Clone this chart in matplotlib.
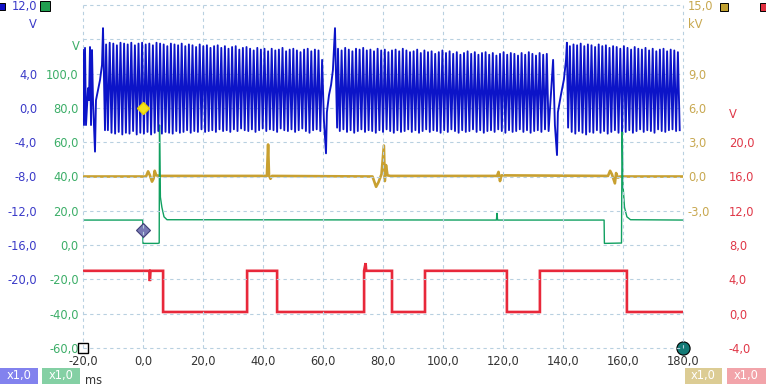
import numpy as np
import matplotlib
matplotlib.use("Agg")
import matplotlib.pyplot as plt
from matplotlib.patches import Rectangle

plt.rcParams["font.family"] = ["DejaVu Sans"]
FS = 8.3

W, H = 766, 388
C_BLUE, C_GREEN, C_GOLD, C_RED = "#0c14c8", "#10a060", "#c8a030", "#e8283a"
L_BLUE, L_GREEN, L_GOLD, L_RED = "#3a3ac8", "#3cae68", "#c8a850", "#e03848"
GRID = "#b8d0e0"

# ---- scope channels -------------------------------------------------------
# blue channel (V): irregular stretches, explicit (t [ms], V) points
blue_a_t = [-20.0, -19.67, -19.33, -19.0, -18.33, -18.0, -17.67, -17.33, -17.0,
            -16.67, -16.0, -15.67, -15.0, -14.33, -13.67, -13.33, -13.0, -12.67]
blue_a_v = [6.75, -2.0, 7.0, -2.0, 2.3, 0.9, 7.1, -2.0, 6.75,
            0.9, -5.1, 0.9, 2.1, 3.25, 5.0, 9.3, 3.25, -2.6]
blue_ab_t = [59.7, 60.3, 61.0, 61.3, 62.0, 62.7, 63.3, 64.0, 64.3, 64.7]
blue_ab_v = [5.6, -1.4, -5.3, -0.5, 1.5, 2.7, 4.4, 9.3, 4.4, -2.3]
blue_bc_t = [136.7, 137.3, 138.0, 138.3, 139.3, 140.3, 141.0, 141.3, 141.7]
blue_bc_v = [5.6, -2.0, -5.5, -0.5, 1.5, 3.3, 5.6, 7.6, -2.3]

# blue channel oscillation bursts: start time, per-cycle peaks and troughs
BURST_HALF = 0.6  # ms between a peak and the next trough
burst_b_start = -12.3
burst_b_hi = [7.4, 7.6, 7.5, 7.3, 7.6, 7.5, 7.4, 7.6, 7.3, 7.5,
              7.6, 7.4, 7.5, 7.3, 7.6, 7.5, 7.4, 7.2, 7.5, 7.4,
              7.3, 7.5, 7.2, 7.4, 7.3, 7.1, 7.4, 7.2, 7.3, 7.0,
              7.2, 7.3, 7.0, 7.2, 6.9, 7.1, 7.2, 6.8, 7.0, 7.1,
              6.9, 6.7, 7.0, 6.8, 6.9, 6.6, 6.9, 6.7, 6.8, 7.0,
              6.6, 6.8, 6.9, 6.7, 6.5, 6.8, 6.9, 6.6, 6.8, 6.7]
burst_b_lo = [-2.6, -2.9, -3.0, -2.8, -3.1, -2.9, -3.0, -2.7, -3.1, -2.9,
              -3.0, -2.8, -3.1, -2.9, -2.7, -3.0, -2.8, -2.9, -3.0, -2.7,
              -2.9, -2.8, -2.6, -2.9, -2.7, -2.8, -2.5, -2.8, -2.7, -2.6,
              -2.8, -2.5, -2.7, -2.6, -2.8, -2.5, -2.7, -2.4, -2.6, -2.7,
              -2.5, -2.8, -2.6, -2.4, -2.7, -2.5, -2.6, -2.8, -2.4, -2.6,
              -2.7, -2.5, -2.8, -2.6, -2.4, -2.7, -2.9, -2.6, -2.5, -2.7]
burst_c_start = 65.0
burst_c_hi = [6.9, 6.7, 7.0, 6.8, 6.6, 6.9, 6.8, 7.0, 6.7, 6.8,
              6.6, 6.9, 6.7, 6.8, 6.5, 6.7, 6.8, 6.6, 6.9, 6.7,
              6.5, 6.6, 6.8, 6.4, 6.7, 6.5, 6.6, 6.3, 6.5, 6.7,
              6.4, 6.6, 6.3, 6.5, 6.2, 6.4, 6.6, 6.3, 6.5, 6.2,
              6.4, 6.5, 6.2, 6.4, 6.1, 6.3, 6.5, 6.2, 6.4, 6.3,
              6.1, 6.4, 6.2, 6.5, 6.3, 6.1, 6.4, 6.2, 6.3]
burst_c_lo = [-2.7, -2.5, -2.8, -2.6, -2.9, -2.7, -2.5, -2.8, -2.6, -2.7,
              -2.9, -2.6, -2.8, -2.5, -2.7, -2.9, -2.6, -2.8, -2.7, -2.5,
              -2.8, -2.6, -2.9, -2.7, -2.5, -2.8, -2.6, -2.7, -2.9, -2.6,
              -2.8, -2.5, -2.7, -2.9, -2.6, -2.8, -2.7, -2.5, -2.8, -2.6,
              -2.9, -2.7, -2.6, -2.8, -2.5, -2.7, -2.9, -2.6, -2.8, -2.7,
              -2.5, -2.8, -2.6, -2.9, -2.7, -2.6, -2.8, -2.5, -2.7]
burst_d_start = 142.3
burst_d_hi = [7.2, 7.4, 7.3, 7.5, 7.2, 7.4, 7.3, 7.1, 7.4, 7.2,
              7.3, 7.0, 7.2, 7.1, 6.9, 7.2, 7.0, 6.8, 7.1, 6.9,
              6.8, 7.0, 6.7, 6.9, 6.6, 6.8, 6.9, 6.6, 6.8, 6.7, 6.5]
burst_d_lo = [-2.8, -3.0, -2.7, -2.9, -3.1, -2.8, -2.9, -2.6, -2.9, -2.7,
              -3.0, -2.8, -2.6, -2.9, -2.7, -2.8, -2.6, -2.9, -2.7, -2.5,
              -2.8, -2.6, -2.7, -2.9, -2.5, -2.7, -2.8, -2.6, -2.5, -2.7, -2.6]

# green channel (V)
green_t = [-20.0, -0.1, 0.0, 5.0, 5.4, 5.5, 5.8, 6.3, 7.0, 8.0,
           117.8, 118.0, 118.2,
           153.7, 153.8, 159.5, 159.7, 160.0, 160.5, 161.3, 162.5, 180.0]
green_v = [14.6, 14.6, 1.0, 1.0, 1.2, 70.0, 28.0, 22.0, 16.5, 14.8,
           14.6, 18.5, 14.6,
           14.6, 1.0, 1.2, 70.0, 35.0, 22.0, 16.5, 14.8, 14.6]

# gold channel (kV)
gold_t = [-20.0, 1.0, 1.7, 2.3, 3.0, 3.5, 3.9, 4.4, 6.0,
          41.3, 41.7, 42.0, 42.5, 43.0,
          76.5, 77.7, 78.5, 79.5, 80.3, 80.6, 81.0, 81.5, 82.5,
          118.0, 118.5, 119.0, 119.5,
          155.0, 155.7, 156.3, 157.3, 157.7, 158.3, 159.0, 180.0]
gold_v = [0.0, 0.0, 0.45, 0.1, -0.45, -0.2, 0.5, 0.1, 0.05,
          0.05, 2.8, 0.1, -0.2, 0.05,
          0.0, -0.9, -0.5, 0.2, 2.7, -0.4, 1.0, 0.1, 0.05,
          0.05, 0.4, -0.4, 0.1,
          0.05, 0.5, 0.2, -0.6, 0.3, -0.1, 0.0, 0.0]

# red channel (V): logic-like levels
red_t = [-20.0, 2.1, 2.3, 2.5, 6.7, 6.7, 34.7, 34.7, 44.7, 44.7,
         73.7, 73.7, 74.2, 74.4, 83.0, 83.0, 94.0, 94.0, 121.3, 121.3,
         132.3, 132.3, 161.3, 161.3, 180.0]
red_v = [5.0, 5.0, 3.8, 5.0, 5.0, 0.2, 0.2, 5.0, 5.0, 0.2,
         0.2, 5.0, 5.9, 5.0, 5.0, 0.2, 0.2, 5.0, 5.0, 0.2,
         0.2, 5.0, 5.0, 0.2, 0.2]

# axis scales and labelled ticks
x_ticks = list(range(-20, 181, 20))
blue_lim, green_lim, gold_lim, red_lim = (-28, 12), (-60, 140), (-15, 15), (-4, 36)
blue_ticks = [12, 4, 0, -4, -8, -12, -16, -20]
green_ticks = [100, 80, 60, 40, 20, 0, -20, -40, -60]
gold_ticks = [15, 9, 6, 3, 0, -3]
red_ticks = [20, 16, 12, 8, 4, 0, -4]


def fmt(v):
    return f"{v:.1f}".replace(".", ",")


def burst(t0, hi, lo):
    v = np.empty(2 * len(hi))
    v[0::2] = hi
    v[1::2] = lo
    return t0 + np.arange(len(v)) * BURST_HALF, v


def px(x, y):
    return x / W, 1 - y / H


fig = plt.figure(figsize=(W / 100, H / 100), dpi=100)
fig.patch.set_facecolor("white")
pos = [83 / W, 1 - 348 / H, 600 / W, 343 / H]

ax = fig.add_axes(pos)
axg = fig.add_axes(pos, sharex=ax)
axk = fig.add_axes(pos, sharex=ax)
axr = fig.add_axes(pos, sharex=ax)
for a in (ax, axg, axk, axr):
    a.patch.set_visible(False)
    for s in a.spines.values():
        s.set_visible(False)
    a.set_xlim(-20, 180)
ax.set_zorder(4)
axg.set_zorder(3)
axk.set_zorder(2)
axr.set_zorder(1)

# grid on the blue axes (one line per division)
ax.set_ylim(*blue_lim)
ax.set_yticks(np.arange(blue_lim[0], blue_lim[1] + 1, 4))
ax.set_yticklabels([fmt(v) if v in blue_ticks else "" for v in
                    np.arange(blue_lim[0], blue_lim[1] + 1, 4)])
ax.set_xticks(x_ticks)
ax.set_xticklabels([fmt(v) for v in x_ticks])
ax.grid(True, color=GRID, ls=(0, (3, 3)), lw=0.8, clip_on=False)
ax.set_axisbelow(True)
ax.tick_params(axis="y", length=0, pad=33, labelsize=FS, labelcolor=L_BLUE)
ax.tick_params(axis="x", length=0, pad=5, labelsize=FS, labelcolor="#333333")

axg.set_ylim(*green_lim)
axg.set_yticks(green_ticks)
axg.set_yticklabels([fmt(v) for v in green_ticks])
axg.tick_params(axis="y", length=0, pad=3, labelsize=FS, labelcolor=L_GREEN)
axg.tick_params(axis="x", bottom=False, labelbottom=False)

axk.set_ylim(*gold_lim)
axk.yaxis.tick_right()
axk.set_yticks(gold_ticks)
axk.set_yticklabels([fmt(v) for v in gold_ticks])
axk.tick_params(axis="y", length=0, pad=3.6, labelsize=FS, labelcolor=L_GOLD)
axk.tick_params(axis="x", bottom=False, labelbottom=False)

axr.set_ylim(*red_lim)
axr.yaxis.tick_right()
axr.set_yticks(red_ticks)
axr.set_yticklabels([fmt(v) for v in red_ticks])
axr.tick_params(axis="y", length=0, pad=33, labelsize=FS, labelcolor=L_RED)
axr.tick_params(axis="x", bottom=False, labelbottom=False)

# traces
axr.plot(red_t, red_v, color=C_RED, lw=1.9, solid_joinstyle="miter")
axk.plot(gold_t, gold_v, color=C_GOLD, lw=1.9)
axg.plot(green_t, green_v, color=C_GREEN, lw=1.0)

parts_t = [np.array(blue_a_t)]
parts_v = [np.array(blue_a_v)]
for t0, hi, lo, tail_t, tail_v in [
        (burst_b_start, burst_b_hi, burst_b_lo, blue_ab_t, blue_ab_v),
        (burst_c_start, burst_c_hi, burst_c_lo, blue_bc_t, blue_bc_v),
        (burst_d_start, burst_d_hi, burst_d_lo, [], [])]:
    bt, bv = burst(t0, hi, lo)
    parts_t += [bt, np.array(tail_t)]
    parts_v += [bv, np.array(tail_v)]
blue_t = np.concatenate(parts_t)
blue_v = np.concatenate(parts_v)
keep = blue_t <= 180
ax.plot(blue_t[keep], blue_v[keep], color=C_BLUE, lw=1.35)

# cursor / trigger markers
ax.plot([0], [0], marker="D", ms=6.5, color="#f4e41c", mec="#e8d000", zorder=6)
axg.plot([0], [8.8], marker="D", ms=7, color="#7878b4", mec="#404078", mew=0.8)
axg.plot([-20], [-60], marker="s", ms=7, mfc="white", mec="black", mew=1.0,
         clip_on=False)
axg.plot([180], [-60], marker="o", ms=9.5, mfc="#137a76", mec="black", mew=0.8,
         clip_on=False)

# unit labels
fig.text(*px(33, 25), "V", color=L_BLUE, fontsize=FS, ha="center", va="center")
fig.text(*px(76, 47), "V", color=L_GREEN, fontsize=FS, ha="center", va="center")
fig.text(*px(688, 25), "kV", color=L_GOLD, fontsize=FS, ha="left", va="center")
fig.text(*px(733, 115), "V", color=L_RED, fontsize=FS, ha="center", va="center")
fig.text(*px(85, 381), "ms", color="#333333", fontsize=FS, ha="left", va="center")

# channel colour chips at the top
for x0, y0, w, h, fc in [(-2, 3, 7, 7, "#1010c8"), (40, 1, 10, 10, "#20a050"),
                         (720, 3, 8, 8, "#c0a030"), (760, 3, 8, 8, "#e03040")]:
    fig.patches.append(Rectangle(px(x0, y0 + h), w / W, h / H, fc=fc, ec="black",
                                 lw=0.7, transform=fig.transFigure, figure=fig))

# scale boxes at the bottom
for x0, w, fc in [(0, 38, "#8282ee"), (42, 38, "#84d0a4"),
                  (685, 37, "#dccc94"), (727, 39, "#f2a4aa")]:
    fig.patches.append(Rectangle(px(x0, 384), w / W, 16 / H, fc=fc, ec="none",
                                 transform=fig.transFigure, figure=fig))
    fig.text(*px(x0 + w / 2, 376), "x1,0", color="white", fontsize=FS,
             ha="center", va="center")

fig.savefig("out.png", dpi=100)
